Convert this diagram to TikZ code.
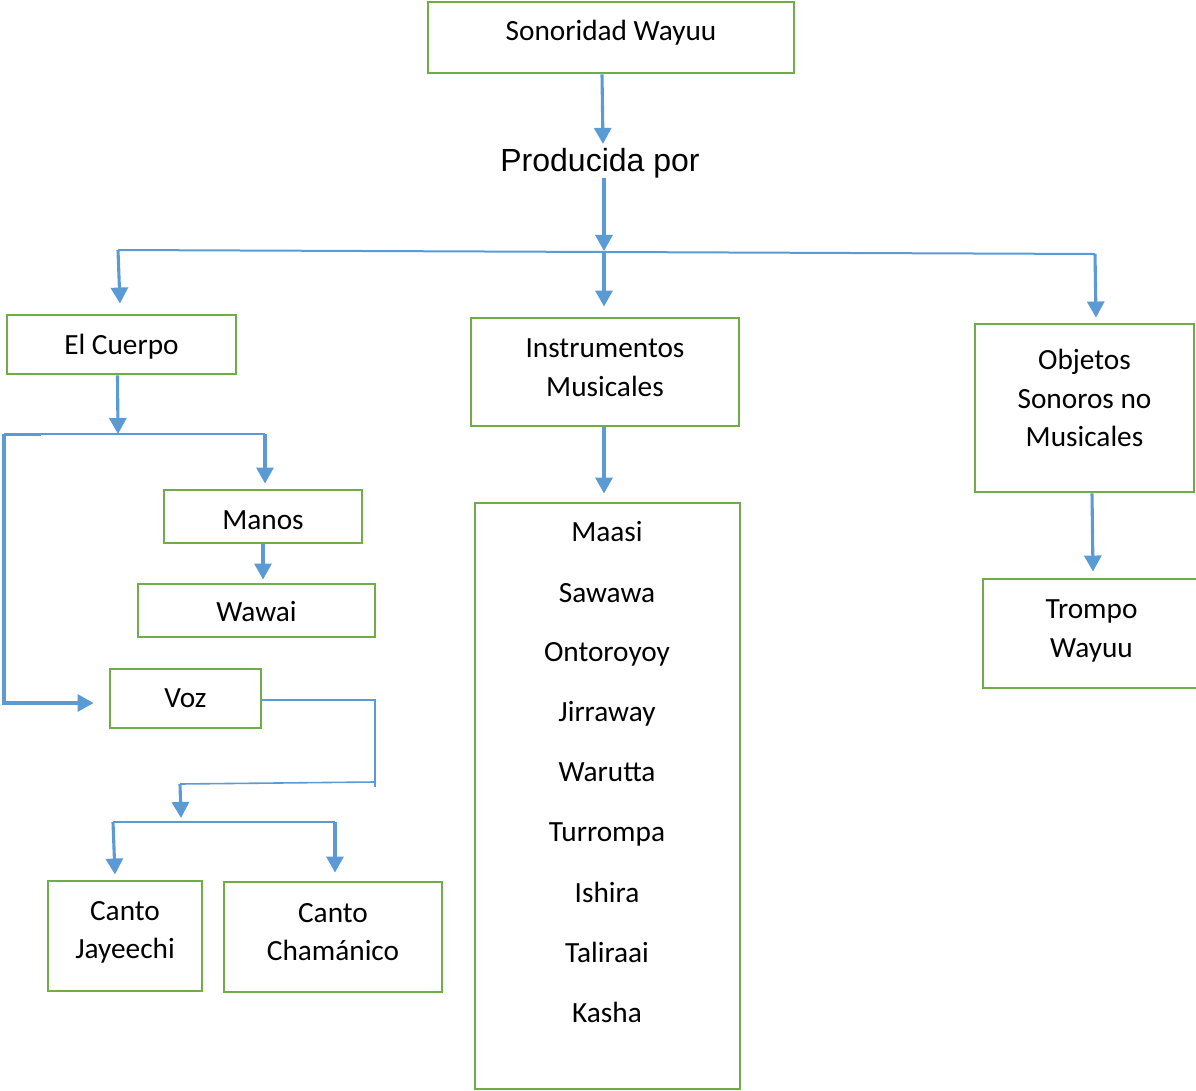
\documentclass[tikz,border=0pt]{standalone}
\usepackage{fontspec}
\setmainfont{Carlito}
\newfontfamily\arialf{Liberation Sans}
\usetikzlibrary{arrows.meta}
\definecolor{boxgreen}{HTML}{70AD47}
\definecolor{lineblue}{HTML}{5B9BD5}
\begin{document}
\begin{tikzpicture}[x=1pt,y=-1pt,
 box/.style={draw=boxgreen,line width=2.9pt,inner sep=0pt,align=center,font=\fontsize{29.3}{38.5}\selectfont},
 txt/.style={inner sep=0pt,font=\fontsize{29.3}{38.5}\selectfont},
 arr/.style={draw=lineblue,line width=3.1pt,-{Triangle[width=17pt,length=16pt]}},
 ln/.style={draw=lineblue,line width=2pt},
 thinln/.style={draw=lineblue,line width=1.6pt}]
\useasboundingbox (0,0) rectangle (1196,1091);
\clip (0,0) rectangle (1196,1091);

% boxes
\node[box,minimum width=366pt,minimum height=71pt,text depth=14pt] (top) at (611,37.5) {Sonoridad Wayuu};
\node[inner sep=0pt,font=\arialf\fontsize{32}{38}\selectfont] (prod) at (600,163) {Producida por};
\node[box,minimum width=229pt,minimum height=59pt,text height=24pt] (cuerpo) at (121.5,344.5) {El Cuerpo};
\node[box,minimum width=268pt,minimum height=108pt,text depth=9pt] (instr) at (605,372) {Instrumentos\\Musicales};
\node[box,minimum width=219pt,minimum height=168pt,text depth=20pt] (objetos) at (1084.5,408) {Objetos\\Sonoros no\\Musicales};
\node[box,minimum width=198pt,minimum height=53pt,text height=27pt] (manos) at (263,516.5) {Manos};
\node[box,minimum width=237pt,minimum height=53pt,text height=22.5pt] (wawai) at (256.5,610.5) {Wawai};
\node[box,minimum width=151pt,minimum height=59pt] (voz) at (185.5,698.5) {Voz};
\node[box,minimum width=154pt,minimum height=110pt,text depth=12pt] (jay) at (125,936) {Canto\\Jayeechi};
\node[box,minimum width=218pt,minimum height=110pt,text depth=10pt] (cham) at (333,937) {Canto\\Chamánico};
\node[box,minimum width=265pt,minimum height=586pt] (list) at (607.5,796) {};
\node[box,minimum width=217pt,minimum height=109pt,text depth=10pt] (trompo) at (1091.5,633.5) {Trompo\\Wayuu};

% list items
\node[txt] (i1) at (607,532) {Maasi};
\node[txt] (i2) at (607,593) {Sawawa};
\node[txt] (i3) at (607,654) {Ontoroyoy};
\node[txt] (i4) at (607,714) {Jirraway};
\node[txt] (i5) at (607,772) {Warutta};
\node[txt] (i6) at (607,834) {Turrompa};
\node[txt] (i7) at (607,892) {Ishira};
\node[txt] (i8) at (607,952) {Taliraai};
\node[txt] (i9) at (607,1012) {Kasha};

% junction coordinates
\coordinate (hub) at (604,251);
\coordinate (hl) at (118,250);
\coordinate (hr) at (1095,254);
\coordinate (cj) at (118,434);
\coordinate (cl) at (4,434);
\coordinate (cr) at (265,434);
\coordinate (cbend) at (4,703);
\coordinate (v1) at (375,700);
\coordinate (v2) at (375,782);
\coordinate (vend) at (375,787);
\coordinate (v3) at (180,784);
\coordinate (vtip) at (181,818);
\coordinate (cl2) at (113,822);
\coordinate (cr2) at (335,822);

% connectors
\draw[arr] ([xshift=-9pt]top.south) -- ([xshift=3pt,yshift=4pt]prod.north);
\draw[arr] ([xshift=4pt]prod.south) -- (hub);
\draw[ln] (hl) -- (hr);
\draw[arr] (hl) -- ([xshift=-1.5pt,yshift=10pt]cuerpo.north);
\draw[arr] (hub) -- ([xshift=-1pt,yshift=10pt]instr.north);
\draw[arr] (hr) -- ([xshift=11.5pt,yshift=5pt]objetos.north);

\draw[arr] ([xshift=-4pt]cuerpo.south) -- (cj);
\draw[ln] (cl) -- (cr);
\draw[draw=lineblue,line width=3pt] (cl) -- ++(37,0);
\draw[arr] (cl) -- (cbend) -- ([xshift=-15pt,yshift=-4.5pt]voz.west);
\draw[arr] (cr) -- ([xshift=2pt,yshift=5pt]manos.north);
\draw[arr] (manos.south) -- ([xshift=6.5pt,yshift=3pt]wawai.north);

\draw[thinln] ([yshift=-1.5pt]voz.east) -- (v1) -- (vend);
\draw[thinln] (v2) -- (v3);
\draw[arr] (v3) -- (vtip);
\draw[thinln] (cl2) -- (cr2);
\draw[arr] (cl2) -- ([xshift=-10pt,yshift=5pt]jay.north);
\draw[arr] (cr2) -- ([xshift=2pt,yshift=8pt]cham.north);

\draw[arr] ([xshift=-1pt]instr.south) -- ([xshift=-3.5pt,yshift=8pt]list.north);
\draw[arr] ([xshift=7.5pt]objetos.south) -- ([xshift=1.5pt,yshift=6pt]trompo.north);
\end{tikzpicture}
\end{document}
